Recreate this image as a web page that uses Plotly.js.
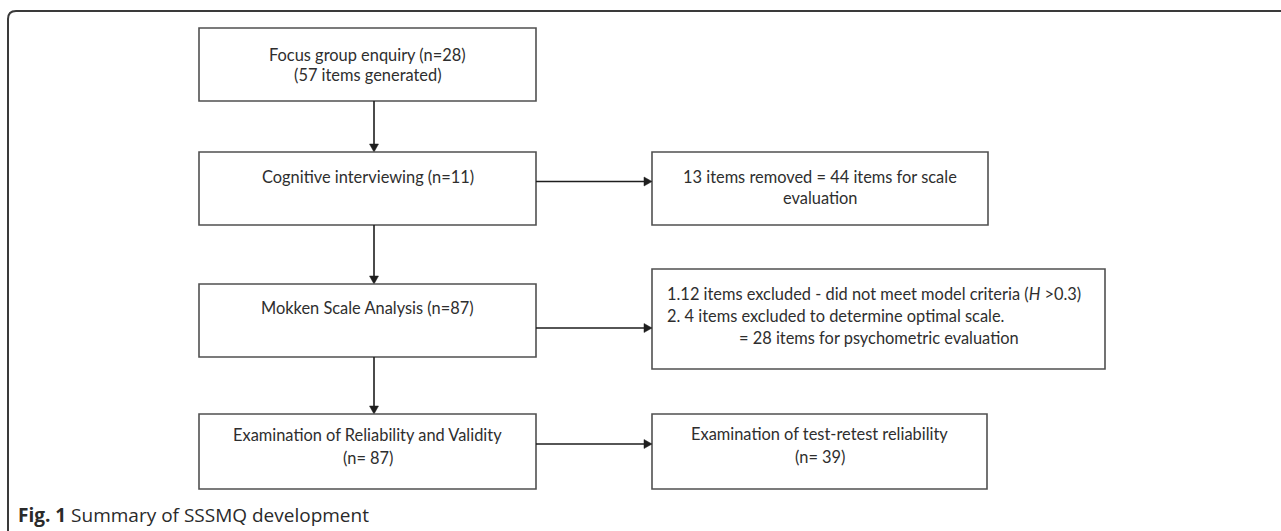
<!DOCTYPE html>
<html>
<head>
<meta charset="utf-8">
<script src="https://cdn.plot.ly/plotly-3.0.1.min.js"></script>
<style>html,body{margin:0;padding:0;background:#fff;}#chart{width:1281px;height:531px;}</style>
</head>
<body>
<div id="chart"></div>
<script>
// ---- content ----
const mainSteps = [
  ["Focus group enquiry (n=28)", "(57 items generated)"],
  ["Cognitive interviewing (n=11)"],
  ["Mokken Scale Analysis (n=87)"],
  ["Examination of Reliability and Validity", "(n= 87)"]
];
const sideSteps = [
  null,
  ["13 items removed = 44 items for scale", "evaluation"],
  ["1.12 items excluded - did not meet model criteria (<i>H</i> >0.3)", "2. 4 items excluded to determine optimal scale.", "= 28 items for psychometric evaluation"],
  ["Examination of test-retest reliability", "(n= 39)"]
];
const captionBold = "Fig. 1";
const captionText = "Summary of SSSMQ development";

// ---- geometry (pixels, y downwards) ----
const mainX = [199, 536];
const mainY = [[28, 101], [152, 225], [284, 357], [414, 489]];
const mainTextY = [[54, 74], [176], [307], [434, 457]];
const sideX = [[0, 0], [652, 988], [652, 1105], [652, 987]];
const sideY = [null, [152, 225], [269, 369], [414, 489]];
const sideTextY = [null, [176, 197], [293, 315, 337], [433, 456]];
const sideArrowY = [null, 181.5, 328, 444];
const spineX = 374;

const textColor = "#2e2e2e";
const boxColor = "#505050";
const lineColor = "#1e1e1e";
const fontFam = "Lato, 'Liberation Sans', sans-serif";
const fsz = 16.4;

const shapes = [];
const annotations = [];

// outer frame with rounded top-left corner
shapes.push({type: "path", xref: "x", yref: "y",
  path: "M 8 540 L 8 19 Q 8 11 16 11 L 1290 11",
  line: {color: "#3a3a3a", width: 2}});

function box(x0, x1, y0, y1) {
  shapes.push({type: "rect", xref: "x", yref: "y", x0: x0, x1: x1, y0: y0, y1: y1,
    line: {color: boxColor, width: 1.6}, fillcolor: "rgba(0,0,0,0)"});
}
function txt(x, y, t, anchor) {
  annotations.push({xref: "x", yref: "y", x: x, y: y, text: t, showarrow: false,
    xanchor: anchor || "center", yanchor: "middle",
    font: {family: fontFam, size: fsz, color: textColor}});
}
function arrowDown(x, y0, y1) {
  shapes.push({type: "line", xref: "x", yref: "y", x0: x, x1: x, y0: y0, y1: y1 - 7,
    line: {color: lineColor, width: 1.6}});
  shapes.push({type: "path", xref: "x", yref: "y",
    path: `M ${x-4.5} ${y1-8} L ${x+4.5} ${y1-8} L ${x} ${y1} Z`,
    fillcolor: lineColor, line: {color: lineColor, width: 0.5}});
}
function arrowRight(y, x0, x1) {
  shapes.push({type: "line", xref: "x", yref: "y", x0: x0, x1: x1 - 7, y0: y, y1: y,
    line: {color: lineColor, width: 1.6}});
  shapes.push({type: "path", xref: "x", yref: "y",
    path: `M ${x1-8} ${y-4.5} L ${x1-8} ${y+4.5} L ${x1} ${y} Z`,
    fillcolor: lineColor, line: {color: lineColor, width: 0.5}});
}

const mainCx = (mainX[0] + mainX[1]) / 2;
mainSteps.forEach((lines, i) => {
  box(mainX[0], mainX[1], mainY[i][0], mainY[i][1]);
  lines.forEach((l, j) => txt(mainCx, mainTextY[i][j], l));
  if (i < mainSteps.length - 1) arrowDown(spineX, mainY[i][1], mainY[i + 1][0]);
  const s = sideSteps[i];
  if (s) {
    box(sideX[i][0], sideX[i][1], sideY[i][0], sideY[i][1]);
    arrowRight(sideArrowY[i], mainX[1], sideX[i][0]);
    if (i === 2) {
      txt(sideX[i][0] + 13, sideTextY[i][0], s[0], "left");
      txt(sideX[i][0] + 13, sideTextY[i][1], s[1], "left");
      txt(sideX[i][0] + 85, sideTextY[i][2], s[2], "left");
    } else {
      const cx = (sideX[i][0] + sideX[i][1]) / 2;
      s.forEach((l, j) => txt(cx, sideTextY[i][j], l));
    }
  }
});

// caption
annotations.push({xref: "x", yref: "y", x: 16, y: 515, xanchor: "left", yanchor: "middle", showarrow: false,
  text: "<b>" + captionBold + "</b> " + captionText,
  font: {family: "'Open Sans', 'Noto Sans', sans-serif", size: 19, color: "#2a2a2a"}});

const layout = {
  width: 1281, height: 531,
  margin: {l: 0, r: 0, t: 0, b: 0},
  paper_bgcolor: "#ffffff", plot_bgcolor: "#ffffff",
  xaxis: {range: [0, 1281], visible: false, fixedrange: true},
  yaxis: {range: [531, 0], visible: false, fixedrange: true},
  showlegend: false,
  shapes: shapes,
  annotations: annotations
};

Plotly.newPlot("chart", [{x: [], y: [], type: "scatter", mode: "markers", hoverinfo: "skip"}], layout,
  {staticPlot: true, displayModeBar: false});
</script>
</body>
</html>
